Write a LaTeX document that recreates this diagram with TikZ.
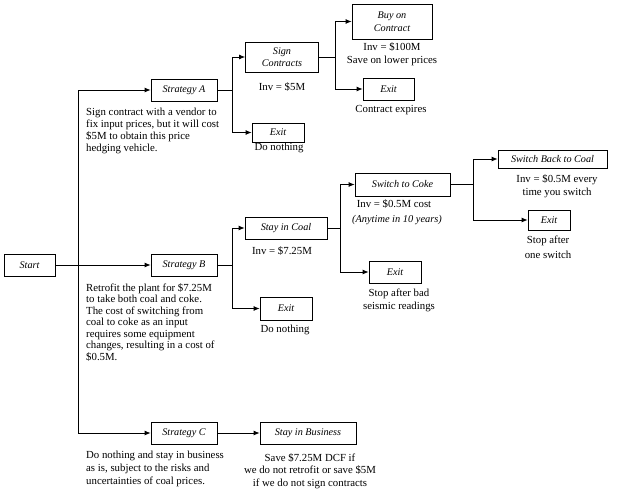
\documentclass[tikz,border=0pt]{standalone}
\usepackage{fontspec}
\setmainfont{Liberation Serif}
\usetikzlibrary{arrows.meta}
\tikzset{
  box/.style={draw, line width=0.8pt, font=\fontsize{10.2}{12.5}\selectfont\itshape,
              minimum height=22pt, inner sep=1pt, align=center},
  note/.style={font=\fontsize{10.8}{12.5}\selectfont, inner sep=0pt, align=center},
  desc/.style={font=\fontsize{10.8}{12}\selectfont, inner sep=0pt, align=left, anchor=north west},
  link/.style={line width=0.8pt},
}

\begin{document}
\begin{tikzpicture}[x=1pt,y=-1pt,>={Latex[length=6pt,width=5pt]}]
    \useasboundingbox (0,0) rectangle (620,495);

    % boxes
    \node[box, minimum width=51pt] (start) at (29.5,265) {Start};
    \node[box, minimum width=66pt] (stratA) at (184,90) {Strategy A};
    \node[box, minimum width=66pt] (stratB) at (184,265) {Strategy B};
    \node[box, minimum width=66pt] (stratC) at (184,433) {Strategy C};

    \node[box, minimum width=73pt, minimum height=30pt] (sign) at (282,57) {Sign\\Contracts};
    \node[box, minimum width=52pt, minimum height=19pt] (exitA) at (278,132.5) {Exit};
    \node[box, minimum width=80pt, minimum height=35pt] (buy) at (392,21.5) {Buy on\\Contract};
    \node[box, minimum width=51pt] (exitK) at (388.5,89) {Exit};

    \node[box, minimum width=82pt] (coal) at (286,228) {Stay in Coal};
    \node[box, minimum width=52pt, minimum height=23pt] (exitB) at (286,308.5) {Exit};
    \node[box, minimum width=95pt, minimum height=23pt] (coke) at (402.5,184.5) {Switch to Coke};
    \node[box, minimum width=52pt] (exitS) at (395,272) {Exit};
    \node[box, minimum width=109pt, minimum height=18pt] (back) at (552.5,159) {Switch Back to Coal};
    \node[box, minimum width=42pt, minimum height=20pt] (exitO) at (549,220) {Exit};

    \node[box, minimum width=96pt] (bus) at (308,433) {Stay in Business};

    % texts
    \node[desc] (descA) at (86,107.5) {Sign contract with a vendor to\\fix input prices, but it will cost\\\$5M to obtain this price\\hedging vehicle.};
    \node[desc, font=\fontsize{10.8}{11.5}\selectfont] (descB) at (86,283) {Retrofit the plant for \$7.25M\\to take both coal and coke.\\The cost of switching from\\coal to coke as an input\\requires some equipment\\changes, resulting in a cost of\\\$0.5M.};
    \node[desc, font=\fontsize{10.8}{13}\selectfont] (descC) at (86,451) {Do nothing and stay in business\\as is, subject to the risks and\\uncertainties of coal prices.};

    \node[note] (invS) at (282,87.5) {Inv = \$5M};
    \node[note] (noA) at (279,148) {Do nothing};
    \node[note] (invBuy) at (392,54) {Inv = \$100M\\Save on lower prices};
    \node[note] (expK) at (391,110.5) {Contract expires};
    \node[note] (invC) at (282,250.5) {Inv = \$7.25M};
    \node[note] (invK) at (394,204) {Inv = \$0.5M cost};
    \node[note, font=\fontsize{10.4}{12}\selectfont\itshape] (anyK) at (397,220.5) {(Anytime in 10 years)};
    \node[note] (stopS) at (399,300.5) {Stop after bad\\seismic readings};
    \node[note] (noB) at (285,330) {Do nothing};
    \node[note] (invBk) at (557,186.5) {Inv = \$0.5M every\\time you switch};
    \node[note, font=\fontsize{10.8}{15}\selectfont] (stopO) at (548,247) {Stop after\\one switch};
    \node[note] (save) at (310,471) {Save \$7.25M DCF if\\we do not retrofit or save \$5M\\if we do not sign contracts};

    % connectors
    \coordinate (t) at (78,265);
    \draw[link] (start.east) -- (t);
    \draw[link,->] (t) |- (stratA.west);
    \draw[link,->] (t) -- (stratB.west);
    \draw[link,->] (t) |- (stratC.west);

    \coordinate (ja) at (232,90);
    \draw[link] (stratA.east) -- (ja);
    \draw[link,->] (ja) |- (sign.west);
    \draw[link,->] (ja) |- (exitA.west);

    \coordinate (jk) at (335,57);
    \draw[link] (sign.east) -- (jk);
    \draw[link,->] (jk) |- (buy.west);
    \draw[link,->] (jk) |- (exitK.west);

    \coordinate (jb) at (232,265);
    \draw[link] (stratB.east) -- (jb);
    \draw[link,->] (jb) |- (coal.west);
    \draw[link,->] (jb) |- (exitB.west);

    \coordinate (jc) at (340,228);
    \draw[link] (coal.east) -- (jc);
    \draw[link,->] (jc) |- (coke.west);
    \draw[link,->] (jc) |- (exitS.west);

    \coordinate (jo) at (473,184.5);
    \draw[link] (coke.east) -- (jo);
    \draw[link,->] (jo) |- (back.west);
    \draw[link,->] (jo) |- (exitO.west);

    \draw[link,->] (stratC.east) -- (bus.west);
\end{tikzpicture}
\end{document}
